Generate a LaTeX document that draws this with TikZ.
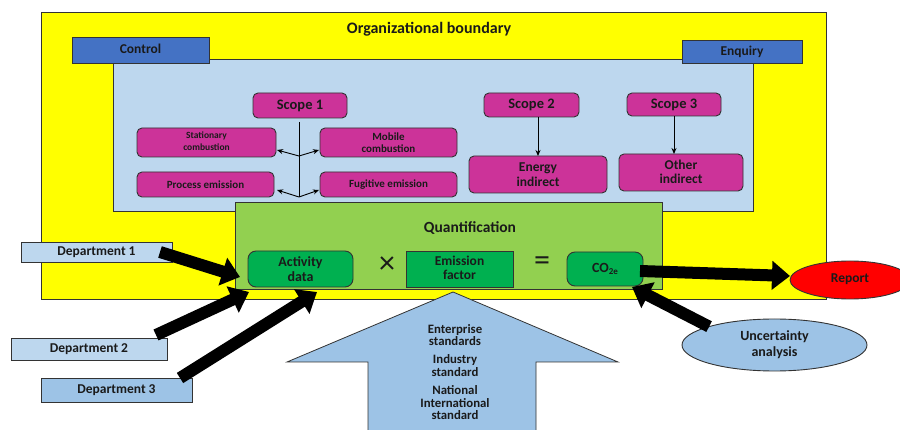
\documentclass[tikz,border=0pt]{standalone}
\usepackage{fontspec}
\setmainfont{Carlito}
\usetikzlibrary{arrows.meta,shapes.geometric}
\definecolor{yel}{HTML}{FFFF00}
\definecolor{lblue}{HTML}{BDD7EE}
\definecolor{mblue}{HTML}{9DC3E6}
\definecolor{dblue}{HTML}{4472C4}
\definecolor{mag}{HTML}{CC3399}
\definecolor{lgreen}{HTML}{92D050}
\definecolor{dgreen}{HTML}{00B050}
\definecolor{txt}{HTML}{1A1A1A}
\definecolor{edge}{HTML}{333333}
\newcommand{\fs}[1]{\bfseries\fontsize{#1}{#1}\selectfont}
\begin{document}
\begin{tikzpicture}[x=1pt,y=-1pt,
  base/.style={draw=edge,line width=0.9pt,inner sep=0pt,outer sep=0pt,align=center,text=txt},
  rbox/.style={base,fill=yel},
  bluebox/.style={base,fill=dblue},
  magbox/.style={base,fill=mag,rounded corners=5pt},
  greenr/.style={base,fill=dgreen,rounded corners=8pt},
  deptbox/.style={base,fill=lblue},
  fat/.style={line width=12pt,-{Triangle[length=18pt,width=28pt]},black},
  thin/.style={line width=0.9pt,-{Stealth[length=6pt,width=5pt]},black},
  lbl/.style={inner sep=0pt,text=txt,align=center}]
\useasboundingbox (0,0) rectangle (900,430);
\fill[white] (0,0) rectangle (900,430);
% containers
\node[rbox,minimum width=785pt,minimum height=287pt] (org) at (433.5,155.5) {};
\node[lbl,font=\fs{16}] (orgt) at (429,29) {Organizational boundary};
\node[base,fill=lblue,minimum width=640pt,minimum height=152pt] (inner) at (433,135) {};
\node[bluebox,minimum width=137pt,minimum height=26pt,font=\fs{13.5}] (ctrl) at (140.5,50) {\raisebox{3pt}{Control}};
\node[bluebox,minimum width=120pt,minimum height=23pt,font=\fs{13.5}] (enq) at (742,51.5) {Enquiry};
% scope boxes
\node[magbox,minimum width=94pt,minimum height=25pt,font=\fs{14.5}] (s1) at (300,105.5) {Scope 1};
\node[magbox,minimum width=139pt,minimum height=29pt,font=\fs{9.5}] (stat) at (206.5,142.5) {\raisebox{2pt}{\shortstack{Stationary\\[1pt]combustion}}};
\node[magbox,minimum width=137pt,minimum height=29pt,font=\fs{11}] (mob) at (388.5,142.5) {Mobile\\[1pt]combustion};
\node[magbox,minimum width=137pt,minimum height=25pt,font=\fs{11}] (proc) at (205.5,184.5) {Process emission};
\node[magbox,minimum width=137pt,minimum height=25pt,font=\fs{11}] (fug) at (388.5,184.5) {Fugitive emission};
\node[magbox,minimum width=95pt,minimum height=24pt,font=\fs{14.5}] (s2) at (531.5,105) {Scope 2};
\node[magbox,minimum width=138pt,minimum height=37pt,font=\fs{13.5}] (en) at (538,174.5) {Energy\\[1pt]indirect};
\node[magbox,minimum width=94pt,minimum height=23pt,font=\fs{14.5}] (s3) at (674,104.5) {Scope 3};
\node[magbox,minimum width=124pt,minimum height=37pt,font=\fs{13.5}] (oth) at (681,172.5) {\raisebox{2pt}{\shortstack{Other\\[1pt]indirect}}};
\coordinate (j1) at (299,156);
\coordinate (j2) at (299,197);
\draw[line width=0.9pt] ([xshift=-1pt,yshift=-4pt]s1.south) -- (j2);
\draw[thin] (j1) -- ([xshift=1pt,yshift=-7.5pt]stat.east);
\draw[thin] (j1) -- ([xshift=-1pt,yshift=-7.5pt]mob.west);
\draw[thin] (j2) -- ([xshift=3pt,yshift=-5.5pt]proc.east);
\draw[thin] (j2) -- ([xshift=-1pt,yshift=-5.5pt]fug.west);
\draw[thin] (en.north |- s2.south) -- (en.north);
\draw[thin] (s3.south) -- (s3.south |- oth.north);
% quantification
\node[base,fill=lgreen,minimum width=427pt,minimum height=87pt] (quant) at (448.5,245.5) {};
\node[lbl,font=\fs{15.5}] (qt) at (470,228) {Quantification};
\node[greenr,minimum width=105pt,minimum height=36pt,font=\fs{14}] (act) at (300.5,269) {Activity\\[1pt]data};
\node[base,fill=dgreen,minimum width=107pt,minimum height=36pt,font=\fs{13.5}] (emf) at (459.5,269) {\raisebox{2pt}{\shortstack{Emission\\[1pt]factor}}};
\node[greenr,minimum width=76pt,minimum height=34pt,font=\fs{14}] (co2) at (605,269) {CO\raisebox{-2pt}{\fontsize{9}{9}\selectfont 2e}};
\node[lbl,font=\fontsize{32}{32}\selectfont] (times) at (387,265) {×};
\node[lbl,font=\fontsize{32}{32}\selectfont] (eq) at (542,264) {=};
% big arrow
\draw[edge,line width=0.8pt,fill=mblue] (453,292) -- (618,362) -- (536,362) -- (536,434) -- (368,434) -- (368,362) -- (287,362) -- cycle;
\node[lbl,font=\fs{12.8}] (std) at (455,372) {Enterprise\\standards\\[5pt]Industry\\standard\\[5pt]National\\International\\standard};
% outer nodes
\node[base,fill=red,ellipse,minimum width=120pt,minimum height=38pt,font=\fs{13.5}] (rep) at (850,280) {\raisebox{4pt}{Report}};
\node[base,fill=mblue,ellipse,minimum width=185pt,minimum height=52pt,font=\fs{14}] (unc) at (774.5,345) {Uncertainty\\[2pt]analysis};
\node[deptbox,minimum width=151pt,minimum height=20pt,font=\fs{13.5}] (d1) at (96.5,252) {Department 1};
\node[deptbox,minimum width=156pt,minimum height=22pt,font=\fs{13.5}] (d2) at (89,349) {Department 2};
\node[base,fill=mblue,minimum width=151pt,minimum height=24pt,font=\fs{13.5}] (d3) at (116.5,390) {Department 3};
% fat arrows
\draw[fat] ([xshift=-12pt]d1.east) -- ([xshift=-8pt,yshift=-8pt]act.west);
\draw[fat] ([xshift=-11pt,yshift=3pt]d2.north east) -- ([xshift=1pt,yshift=-5pt]act.south west);
\draw[fat] ([xshift=-12pt]d3.north east) -- ([xshift=16.5pt,yshift=-5pt]act.south);
\draw[fat] ([xshift=-3pt,yshift=-2pt]co2.east) -- ([yshift=4pt]rep.west);
\draw[fat] (unc.north west) -- ([xshift=-11pt,yshift=-1pt]co2.south east);
\end{tikzpicture}
\end{document}
